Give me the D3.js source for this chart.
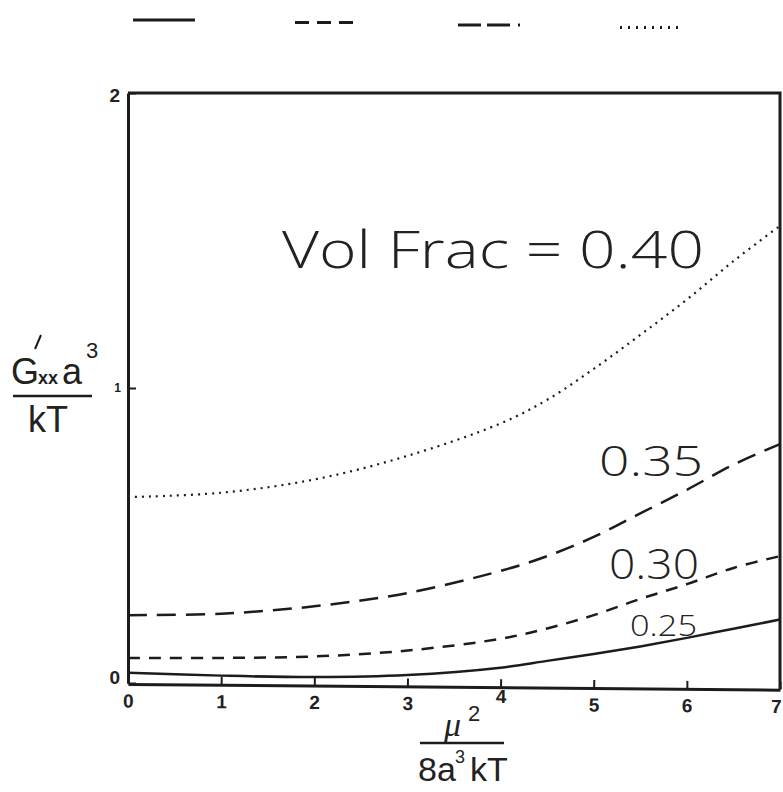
<!DOCTYPE html>
<html>
<head>
<meta charset="utf-8">
<script src="https://cdn.jsdelivr.net/npm/d3@7"></script>
<style>
  body { margin: 0; background: #fff; }
  text { font-family: "Liberation Sans", Arial, sans-serif; fill: #222; }
  .thin { font-family: "Open Sans", "Liberation Sans", sans-serif; font-weight: 300; }
</style>
</head>
<body>
<div class="chart"></div>
<script>
// values
const mu = [0, 1, 2, 3, 4, 4.5, 5, 5.5, 6, 6.5, 7];
const vf25 = [0.035, 0.025, 0.02, 0.027, 0.052, 0.075, 0.098, 0.124, 0.153, 0.184, 0.215];
const vf30 = [0.085, 0.085, 0.09, 0.11, 0.15, 0.185, 0.23, 0.285, 0.335, 0.39, 0.43];
const vf35 = [0.23, 0.235, 0.26, 0.305, 0.38, 0.43, 0.495, 0.575, 0.655, 0.74, 0.81];
const vf40 = [0.63, 0.645, 0.69, 0.77, 0.88, 0.96, 1.065, 1.18, 1.30, 1.43, 1.55];
const seriesNames = ['0.25', '0.30', '0.35', '0.40'];
const xTicks = [0, 1, 2, 3, 4, 5, 6, 7];
const yTicks = [0, 1, 2];

const width = 783, height = 792;
const margin = {left: 128, right: 3, top: 93, bottom: 109};

const svg = d3.select('.chart')
  .append('svg')
  .attr('width', width)
  .attr('height', height);

const x = d3.scaleLinear().domain([0, 7]).range([margin.left, width - margin.right]);
const y = d3.scaleLinear().domain([0, 2]).range([height - margin.bottom, margin.top]);

const ink = '#1c1c1c';
// line styles: solid, short dash, long dash, dotted
const dashes = [null, '12,9', '19,10', '2,5'];
const series = [vf25, vf30, vf35, vf40];

// frame (top and right sides)
svg.append('path')
  .attr('d', `M${x(0)},${y(2)} H${x(7)} V${y(0) + 6}`)
  .attr('fill', 'none')
  .attr('stroke', ink)
  .attr('stroke-width', 3);

// x axis, the scan is a little tilted so it is too
const xAxis = svg.append('g')
  .attr('transform', `translate(0,${y(0) + 1}) rotate(0.5,${x(0)},0)`)
  .attr('font-size', 19)
  .call(d3.axisBottom(x).tickValues(xTicks).tickFormat(d3.format('d'))
    .tickSizeInner(-8).tickSizeOuter(0).tickPadding(10));
xAxis.select('.domain').attr('stroke', ink).attr('stroke-width', 3);
xAxis.selectAll('.tick line').attr('stroke', ink).attr('stroke-width', 2);
xAxis.selectAll('.tick text')
  .attr('font-size', 19)
  .attr('font-weight', 'bold')
  .attr('fill', ink)
  .attr('x', d => d === 7 ? -4 : 0)
  .attr('dy', d => d === 4 ? '0.3em' : '0.71em');

// y axis
const yAxis = svg.append('g')
  .attr('transform', `translate(${x(0)},0)`)
  .call(d3.axisLeft(y).tickValues(yTicks).tickFormat(d3.format('d'))
    .tickSizeInner(-8).tickSizeOuter(0));
yAxis.select('.domain').attr('stroke', ink).attr('stroke-width', 3);
yAxis.selectAll('.tick line').attr('stroke', ink).attr('stroke-width', 2);
yAxis.selectAll('.tick text')
  .attr('font-size', d => d === 1 ? 12 : 19)
  .attr('font-weight', 'bold')
  .attr('fill', ink)
  .attr('x', d => d === 1 ? -7 : -8)
  .attr('dy', d => d === 0 ? '0.0em' : d === 2 ? '0.45em' : '0.32em');

// curves
const line = d3.line()
  .x((d, i) => x(mu[i]))
  .y(d => y(d))
  .curve(d3.curveCatmullRom.alpha(0.5));

series.forEach((s, i) => {
  svg.append('path')
    .datum(s)
    .attr('d', line)
    .attr('fill', 'none')
    .attr('stroke', ink)
    .attr('stroke-width', i === 3 ? 2.2 : 2.5)
    .attr('stroke-dasharray', dashes[i]);
});

// curve labels
svg.append('text').attr('class', 'thin')
  .attr('x', 282).attr('y', 268)
  .attr('textLength', 422).attr('lengthAdjust', 'spacingAndGlyphs')
  .style('font-size', '52px')
  .text('Vol Frac = ' + seriesNames[3]);
svg.append('text').attr('class', 'thin')
  .attr('x', 599).attr('y', 476)
  .attr('textLength', 104).attr('lengthAdjust', 'spacingAndGlyphs')
  .style('font-size', '42px')
  .text(seriesNames[2]);
svg.append('text').attr('class', 'thin')
  .attr('x', 609).attr('y', 579)
  .attr('textLength', 90).attr('lengthAdjust', 'spacingAndGlyphs')
  .style('font-size', '42px')
  .text(seriesNames[1]);
svg.append('text').attr('class', 'thin')
  .attr('x', 630).attr('y', 636)
  .attr('textLength', 67).attr('lengthAdjust', 'spacingAndGlyphs')
  .style('font-size', '30px')
  .text(seriesNames[0]);

// legend: line samples only, no text
const legendX = [133, 295, 458, 620];
const legend = svg.append('g');
legendX.forEach((lx, i) => {
  legend.append('line')
    .attr('x1', lx).attr('x2', lx + 62)
    .attr('y1', 20 + i * 2.5).attr('y2', 20 + i * 2.5)
    .attr('stroke', ink)
    .attr('stroke-width', 3)
    .attr('stroke-dasharray', i === 0 ? null : i === 1 ? '14,8' : i === 2 ? '23,6,23,8,4,60' : '2,6');
});

// y title as a fraction
const yt = svg.append('g').attr('class', 'thin');
yt.append('text').attr('x', 11).attr('y', 384).style('font-size', '36px').text('G');
// prime mark drawn as a short stroke
yt.append('line').attr('x1', 35).attr('y1', 349).attr('x2', 41).attr('y2', 335)
  .attr('stroke', ink).attr('stroke-width', 2);
yt.append('text').attr('x', 38).attr('y', 384).style('font-size', '18px').style('font-weight', 'bold').text('xx');
yt.append('text').attr('x', 62).attr('y', 384).style('font-size', '36px').text('a');
yt.append('text').attr('x', 86).attr('y', 358).style('font-size', '22px').text('3');
yt.append('line').attr('x1', 13).attr('x2', 92).attr('y1', 396).attr('y2', 396)
  .attr('stroke', ink).attr('stroke-width', 2.5);
yt.append('text').attr('x', 28).attr('y', 432).style('font-size', '36px').text('kT');

// x title as a fraction
const xt = svg.append('g').attr('class', 'thin');
xt.append('text').attr('x', 444).attr('y', 736)
  .style('font-family', '"Liberation Serif", serif').style('font-style', 'italic')
  .style('font-size', '34px').text('\u03bc');
xt.append('text').attr('x', 468).attr('y', 721).style('font-size', '22px').text('2');
xt.append('line').attr('x1', 420).attr('x2', 504).attr('y1', 743).attr('y2', 743)
  .attr('stroke', ink).attr('stroke-width', 2.5);
xt.append('text').attr('x', 418).attr('y', 781).style('font-size', '34px').text('8a');
xt.append('text').attr('x', 455).attr('y', 763).style('font-size', '18px').text('3');
xt.append('text').attr('x', 470).attr('y', 781).style('font-size', '34px').text('kT');
</script>
</body>
</html>
